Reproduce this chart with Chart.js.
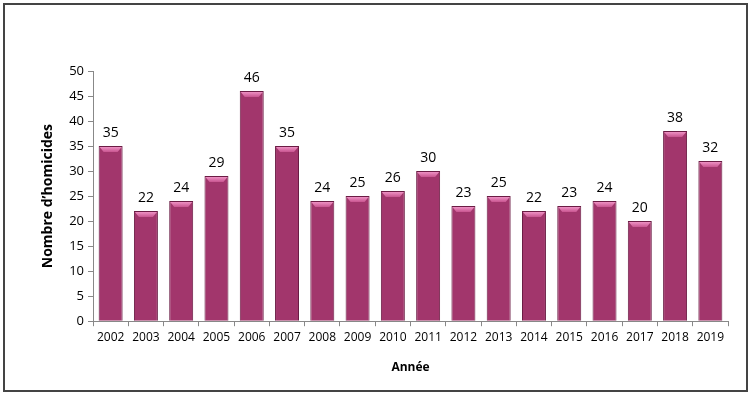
<!DOCTYPE html>
<html>
<head>
<meta charset="utf-8">
<script src="https://cdn.jsdelivr.net/npm/chart.js@4/dist/chart.umd.min.js"></script>
<style>
  html, body { margin: 0; padding: 0; background: #fff; }
  #wrap { width: 750px; height: 394px; position: relative; }
</style>
</head>
<body>
<div id="wrap"><canvas id="homicideChart" width="750" height="394"></canvas></div>
<script>
// data
var years = ['2002', '2003', '2004', '2005', '2006', '2007', '2008', '2009', '2010',
             '2011', '2012', '2013', '2014', '2015', '2016', '2017', '2018', '2019'];
var homicides = [35, 22, 24, 29, 46, 35, 24, 25, 26, 30, 23, 25, 22, 23, 24, 20, 38, 32];
var yTitle = 'Nombre d\u2019homicides';
var xTitle = 'Ann\u00e9e';

var fontFam = '"Open Sans", "DejaVu Sans", sans-serif';

// outer frame + value labels + little bevel on top of the bars
var decorPlugin = {
  id: 'decor',
  beforeDraw: function(chart) {
    var c = chart.ctx;
    c.save();
    c.fillStyle = '#fff';
    c.fillRect(0, 0, chart.width, chart.height);
    c.restore();
  },
  afterDatasetsDraw: function(chart) {
    var c = chart.ctx;
    var meta = chart.getDatasetMeta(0);
    c.save();
    meta.data.forEach(function(bar, i) {
      var half = bar.width / 2;
      // bevel
      var g = c.createLinearGradient(0, bar.y, 0, bar.y + 6);
      g.addColorStop(0, '#f59ccd');
      g.addColorStop(1, '#c8548f');
      c.fillStyle = g;
      c.beginPath();
      c.moveTo(bar.x - half + 1, bar.y + 1);
      c.lineTo(bar.x + half - 1, bar.y + 1);
      c.lineTo(bar.x + half - 5, bar.y + 6);
      c.lineTo(bar.x - half + 5, bar.y + 6);
      c.closePath();
      c.fill();
      // value
      c.fillStyle = '#000';
      c.font = '14px ' + fontFam;
      c.textAlign = 'center';
      c.textBaseline = 'bottom';
      c.fillText(homicides[i], bar.x, bar.y - 6);
    });
    c.restore();
  },
  afterDraw: function(chart) {
    var c = chart.ctx;
    c.save();
    c.strokeStyle = '#444';
    c.lineWidth = 2;
    c.strokeRect(4, 4, 743, 387);
    c.restore();
  }
};

const ctx = document.getElementById('homicideChart');
const homChart = new Chart(ctx, {
  type: 'bar',
  data: {
    labels: years,
    datasets: [{
      data: homicides,
      backgroundColor: '#a2366c',
      borderColor: '#6a1c44',
      borderWidth: 1,
      barPercentage: 0.68,
      categoryPercentage: 1.0,
    }]
  },
  options: {
    responsive: false,
    animation: false,
    layout: { padding: { top: 71, right: 22, bottom: 19, left: 40 } },
    plugins: {
      legend: { display: false },
      tooltip: { enabled: false },
    },
    scales: {
      x: {
        grid: { display: true, drawOnChartArea: false, offset: true, tickLength: 5, color: '#888' },
        border: { color: '#888' },
        ticks: { color: '#000', font: { family: fontFam, size: 12 }, padding: 4, maxRotation: 0, autoSkip: false },
        title: { display: true, text: xTitle, color: '#000', font: { family: fontFam, size: 12, weight: 'bold' }, padding: { top: 12, bottom: 0 } },
      },
      y: {
        min: 0,
        max: 50,
        ticks: { stepSize: 5, color: '#000', font: { family: fontFam, size: 13 }, padding: 4 },
        grid: { display: true, drawOnChartArea: false, tickLength: 5, color: '#888' },
        border: { color: '#888' },
        title: { display: true, text: yTitle, color: '#000', font: { family: fontFam, size: 14, weight: 'bold' }, padding: { top: 0, bottom: 6 } },
        afterFit: function(scale) { scale.width = 53; },
      }
    }
  },
  plugins: [decorPlugin]
});
</script>
</body>
</html>
